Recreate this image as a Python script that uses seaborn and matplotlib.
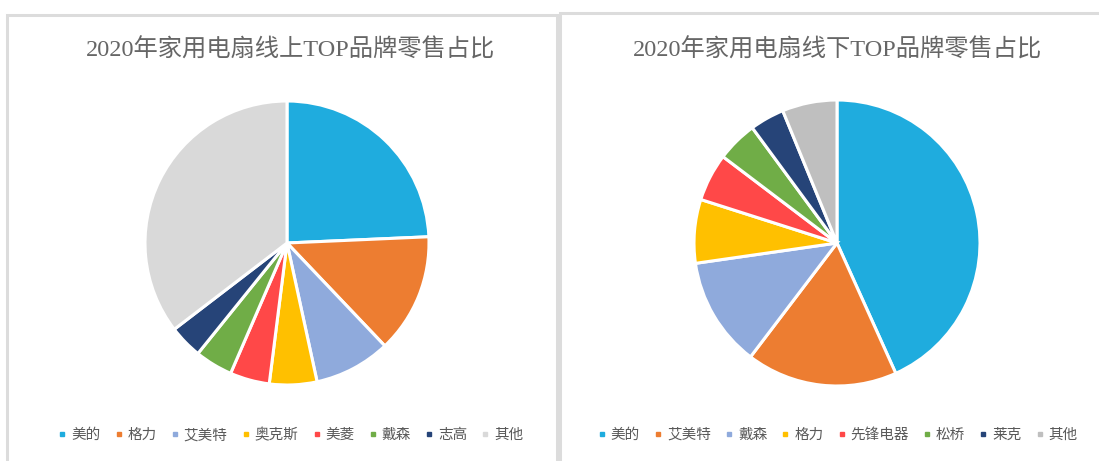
import matplotlib
matplotlib.use("Agg")
import matplotlib.pyplot as plt
from matplotlib.patches import Rectangle
from matplotlib.lines import Line2D
import seaborn as sns

# Data (% share)
online_brands = ["美的", "格力", "艾美特", "奥克斯", "美菱", "戴森", "志高", "其他"]
online_share = [24.3, 13.6, 8.7, 5.4, 4.5, 4.3, 3.8, 35.4]
online_colors = ["#1FACDE", "#ED7D31", "#8FAADC", "#FFC000", "#FF4848", "#70AD47", "#264478", "#D9D9D9"]

offline_brands = ["美的", "艾美特", "戴森", "格力", "先锋电器", "松桥", "莱克", "其他"]
offline_share = [43.3, 17.1, 12.4, 7.2, 5.4, 4.6, 3.9, 6.2]
offline_colors = ["#1FACDE", "#ED7D31", "#8FAADC", "#FFC000", "#FF4848", "#70AD47", "#264478", "#BFBFBF"]

titles = ["2020年家用电扇线上TOP品牌零售占比", "2020年家用电扇线下TOP品牌零售占比"]

sns.set_theme(style="white")
plt.rcParams["font.family"] = ["Noto Sans CJK SC", "DejaVu Sans"]

W, H = 1099, 461
fig = plt.figure(figsize=(W / 100, H / 100), dpi=100)

# panel borders
border = "#DCDCDC"
fig.patches.append(Rectangle((6.5 / W, -0.05), (557 - 6.5) / W, 1.05 - 15 / H,
                             transform=fig.transFigure, fill=False, ec=border, lw=2.2))
fig.patches.append(Rectangle((560 / W, -0.05), 0.5, 1.05 - 13 / H,
                             transform=fig.transFigure, fill=False, ec=border, lw=2.2))

def draw_pie(cx, cy, r, values, colors, labels, title, tx, legend_y):
    pad = 1.06
    side = 2 * r * pad
    ax = fig.add_axes([(cx - side / 2) / W, (H - cy - side / 2) / H, side / W, side / H])
    ax.pie(values, colors=colors, startangle=90, counterclock=False,
           wedgeprops=dict(edgecolor="white", linewidth=2.2))
    ax.set_xlim(-pad, pad)
    ax.set_ylim(-pad, pad)
    ax.set_aspect("equal")
    ax.axis("off")

    fig.text(tx / W, 1 - 50 / H, title, ha="center", va="center", fontsize=17.5,
             color="#666666", family=["Liberation Serif", "Noto Sans CJK SC"])

    handles = [Line2D([0], [0], marker="s", linestyle="", markersize=3.5,
                      markerfacecolor=c, markeredgecolor=c) for c in colors]
    fig.legend(handles, labels, loc="center", bbox_to_anchor=(tx / W, 1 - legend_y / H),
               ncol=len(labels), frameon=False, fontsize=10.5, labelcolor="#595959",
               handlelength=0.5, handletextpad=0.35, columnspacing=1.0, borderaxespad=0)

draw_pie(287, 243, 142, online_share, online_colors, online_brands, titles[0], 291, 435)
draw_pie(837, 243, 143, offline_share, offline_colors, offline_brands, titles[1], 838, 435)

fig.savefig("out.png", dpi=100, facecolor="white")
